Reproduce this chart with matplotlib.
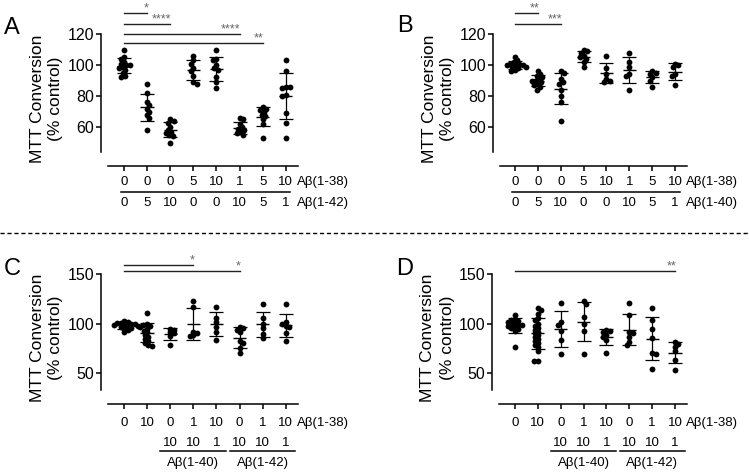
import numpy as np
import matplotlib
matplotlib.use('Agg')
from matplotlib import pyplot as plt
from matplotlib import transforms
from matplotlib.lines import Line2D

plt.rcParams['font.family'] = ['Liberation Sans', 'DejaVu Sans']

W, H = 749, 476

# ---- panel A : Abeta(1-38) with Abeta(1-42)
a_row1 = ['0', '0', '0', '5', '10', '1', '5', '10']
a_row2 = ['0', '5', '10', '0', '0', '10', '5', '1']
a_vals = [
    [110, 105, 104, 102, 101, 100, 100, 99, 98, 97, 95, 93, 92],
    [88, 82, 76, 74, 72, 70, 68, 66, 58],
    [65, 64, 63, 60, 58, 57, 56, 55, 54, 50],
    [106, 103, 101, 98, 96, 93, 89, 88],
    [110, 104, 103, 100, 98, 97, 92, 89, 85],
    [66, 65, 62, 60, 59, 58, 57, 56, 55],
    [73, 72, 71, 70, 68, 67, 65, 62, 53],
    [103, 96, 86, 86, 85, 81, 80, 69, 63, 53],
]
a_sig = [(1, '*', 133.7), (2, '****', 126.5), (5, '****', 120), (6, '**', 114)]

# ---- panel B : Abeta(1-38) with Abeta(1-40)
b_row1 = ['0', '0', '0', '5', '10', '1', '5', '10']
b_row2 = ['0', '5', '10', '0', '0', '10', '5', '1']
b_vals = [
    [105, 103, 102, 101, 101, 100, 100, 100, 99, 99, 98, 97, 96],
    [96, 94, 93, 92, 91, 90, 90, 89, 88, 87, 86, 84],
    [96, 95, 91, 89, 88, 84, 80, 76, 64],
    [110, 109, 108, 106, 105, 104, 102, 99],
    [106, 98, 94, 91, 89, 90],
    [108, 102, 99, 94, 93, 84],
    [96, 95, 94, 92, 90, 86],
    [101, 100, 99, 94, 93, 87],
]
b_sig = [(1, '**', 133.3), (2, '***', 126.5)]

# ---- panels C and D : mixtures
cd_row1 = ['0', '10', '0', '1', '10', '0', '1', '10']
cd_sub = ['10', '10', '1']
cd_names = ['A\u03b2(1-40)', 'A\u03b2(1-42)']
c_vals = [
    [103, 102, 101, 101, 100, 100, 99, 99, 98, 98, 97, 96, 95, 94, 91],
    [111, 100, 99, 98, 97, 95, 93, 91, 88, 86, 84, 82, 80, 78, 77],
    [95, 94, 91, 90, 87, 78],
    [123, 117, 92, 90, 88, 87],
    [117, 106, 102, 97, 92, 83],
    [97, 96, 94, 92, 82, 80, 75, 70],
    [120, 106, 100, 96, 89, 85],
    [120, 102, 100, 98, 97, 90, 82],
]
c_sig = [(3, '*', 159), (5, '*', 153)]
d_vals = [
    [109, 105, 104, 103, 102, 101, 100, 99, 99, 98, 97, 96, 95, 93, 76],
    [116, 114, 110, 106, 104, 100, 98, 96, 94, 92, 90, 88, 86, 84, 82,
     80, 78, 76, 72, 62, 62],
    [121, 102, 99, 93, 83, 69],
    [123, 120, 107, 100, 93, 69],
    [94, 93, 92, 88, 86, 83, 70],
    [121, 109, 92, 90, 86, 81, 78],
    [116, 104, 95, 85, 70, 69, 54],
    [81, 79, 76, 72, 63, 53],
]
d_sig = [(7, '**', 153)]

DOT = 3.8   # spacing used to spread overlapping dots, px
FS = 9.5    # x table text


def fy(y):
    return 1 - y / H


def swarm(vals, sy, d):
    # spread overlapping dots sideways (pixel units)
    ypx = np.asarray(vals, float) * sy
    placed = []
    out = np.zeros(len(ypx))
    for k in range(len(ypx)):
        y = ypx[k]
        cands = [0.0]
        for xj, yj in placed:
            dy = abs(y - yj)
            if dy < d:
                dx = np.sqrt(d * d - dy * dy)
                cands += [xj + dx, xj - dx]
        ok = [c for c in cands
              if all((c - xj) ** 2 + (y - yj) ** 2 >= d * d - 1e-6 for xj, yj in placed)]
        best = min(ok, key=lambda c: (round(abs(c), 3), -c if k % 2 else c))
        out[k] = best
        placed.append((best, y))
    return out


def panel(fig, left, x_first, step, top, bottom, ylo, yhi, yticks, groups, sig, letter, letter_x, letter_y):
    right = x_first + 7 * step + 12
    ax = fig.add_axes([left / W, 1 - bottom / H, (right - left) / W, (bottom - top) / H])
    x0 = -(x_first - left) / step
    ax.set_xlim(x0, x0 + (right - left) / step)
    ax.set_ylim(ylo, yhi)
    sx = step
    sy = (bottom - top) / (yhi - ylo)
    for i, vals in enumerate(groups):
        v = np.array(vals, float)
        offs = swarm(v, sy, DOT) / sx
        ax.plot(i + offs, v, 'o', ms=4.2, color='black', mew=0, clip_on=False, zorder=3)
        m, s = v.mean(), v.std(ddof=1)
        ax.hlines(m, i - 0.29, i + 0.29, color='black', lw=1.0, zorder=4)
        ax.errorbar(i, m, yerr=s, fmt='none', ecolor='black', elinewidth=0.9,
                    capsize=5.0, capthick=0.9, zorder=4)
    for g, stars, lev in sig:
        ax.plot([0, g], [lev, lev], color='#222222', lw=1.0, clip_on=False)
        ax.text(g + 0.05, lev - 1.5 / sy, stars, ha='right', va='bottom', fontsize=9,
                color='#666666', clip_on=False)
    for sp in ['top', 'right']:
        ax.spines[sp].set_visible(False)
    ax.spines['left'].set_linewidth(1.1)
    ax.spines['bottom'].set_linewidth(1.1)
    ax.spines['bottom'].set_position(('outward', 10))
    ax.spines['bottom'].set_bounds(-(x_first - left - 7) / step, x0 + (right - left) / step)
    ax.set_yticks(yticks)
    ax.tick_params(axis='y', length=3.6, width=1.1, labelsize=11.5, pad=1.5)
    ax.set_xticks(range(8))
    ax.set_xticklabels([])
    ax.tick_params(axis='x', length=3.6, width=1.1)
    ax.patch.set_visible(False)
    fig.text(letter_x / W, fy(letter_y), letter, fontsize=17, ha='center', va='center')
    yc = fy((top + bottom) / 2 + 6)
    fig.text((left - 64) / W, yc, 'MTT Conversion', rotation=90, fontsize=12.5,
             ha='center', va='center')
    fig.text((left - 45) / W, yc, '(% control)', rotation=90, fontsize=12.5,
             ha='center', va='center')
    return ax


def row(ax, fig, labels, ypx, name=None, name_x=7.5):
    tr = transforms.blended_transform_factory(ax.transData, fig.transFigure)
    for i, lab in enumerate(labels):
        ax.text(i, fy(ypx), lab, transform=tr, ha='center', va='center', fontsize=FS, clip_on=False)
    if name:
        ax.text(name_x, fy(ypx), name, transform=tr, ha='left', va='center', fontsize=FS, clip_on=False)


def hline(ax, fig, x1, x2, ypx):
    tr = transforms.blended_transform_factory(ax.transData, fig.transFigure)
    ax.plot([x1, x2], [fy(ypx), fy(ypx)], transform=tr, color='black', lw=1.1, clip_on=False)


fig = plt.figure(figsize=(W / 100, H / 100), dpi=100)

axA = panel(fig, 101, 124, 23.1, 34, 152, 44, 120, [60, 80, 100, 120], a_vals, a_sig, 'A', 12, 28)
row(axA, fig, a_row1, 182, 'A\u03b2(1-38)')
hline(axA, fig, -0.15, 7.2, 192)
row(axA, fig, a_row2, 203, 'A\u03b2(1-42)')

axB = panel(fig, 493, 515, 22.86, 34, 152, 44, 120, [60, 80, 100, 120], b_vals, b_sig, 'B', 405, 26)
row(axB, fig, b_row1, 182, 'A\u03b2(1-38)')
hline(axB, fig, -0.15, 7.2, 192)
row(axB, fig, b_row2, 203, 'A\u03b2(1-40)')

for ax_args, vals, sig, let, lx in [((101, 124, 23.1), c_vals, c_sig, 'C', 12),
                                    ((492, 515, 22.86), d_vals, d_sig, 'D', 405)]:
    ax = panel(fig, *ax_args, 274, 390, 33, 150, [50, 100, 150], vals, sig, let, lx, 269)
    row(ax, fig, cd_row1, 423, 'A\u03b2(1-38)')
    tr = transforms.blended_transform_factory(ax.transData, fig.transFigure)
    for j, start in enumerate([2, 5]):
        for k, lab in enumerate(cd_sub):
            ax.text(start + k, fy(443), lab, transform=tr, ha='center', va='center', fontsize=FS)
        hline(ax, fig, start - 0.42, start + 2.42, 451)
        ax.text(start + 1, fy(463), cd_names[j], transform=tr, ha='center', va='center', fontsize=FS)

fig.add_artist(Line2D([0, 1], [fy(233), fy(233)], transform=fig.transFigure,
                      color='black', lw=1.0, ls=(0, (3, 2))))

fig.savefig('out.png', dpi=100)
